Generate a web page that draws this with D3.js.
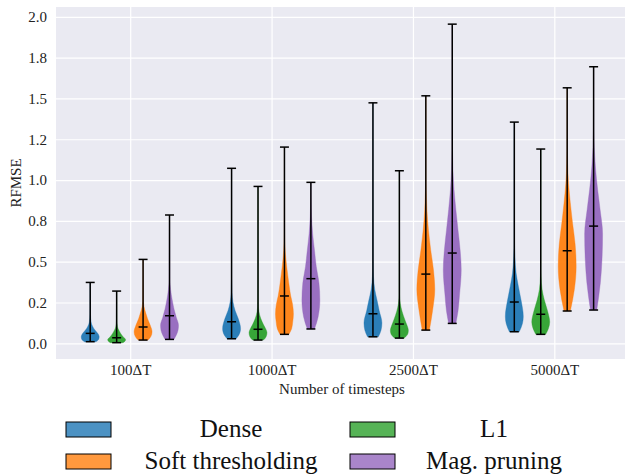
<!DOCTYPE html>
<html>
<head>
<meta charset="utf-8">
<style>
  body { margin: 0; background: #fff; }
</style>
</head>
<body>
<div id="violins"></div>

<script src="https://d3js.org/d3.v7.min.js"></script>
<script>

	var w = 625, h = 475;
	var plotLeft = 56, plotRight = 625, plotTop = 7, plotBottom = 359;
	var serif = "'Liberation Serif', 'Times New Roman', serif";

	// categories and labels
	var groups = ["100\u0394T", "1000\u0394T", "2500\u0394T", "5000\u0394T"];
	var series = ["Dense", "L1", "Soft thresholding", "Mag. pruning"];
	var colors = ["#1f77b4", "#2ca02c", "#ff7f0e", "#9467bd"];
	var legendOrder = [0, 2, 1, 3];   // Dense, Soft thresholding, L1, Mag. pruning
	var offsets = [-0.283, -0.096, 0.091, 0.278];
	var yTicks = [0, 0.25, 0.5, 0.75, 1, 1.25, 1.5, 1.75, 2];
	var yTickLabels = ["0.0", "0.2", "0.5", "0.8", "1.0", "1.2", "1.5", "1.8", "2.0"];

	// per series: min, mean, max for each group
	var denseMin  = [0.010, 0.028, 0.040, 0.071];
	var denseMean = [0.061, 0.132, 0.181, 0.253];
	var denseMax  = [0.373, 1.072, 1.473, 1.355];
	var l1Min  = [0.004, 0.020, 0.032, 0.055];
	var l1Mean = [0.034, 0.086, 0.118, 0.178];
	var l1Max  = [0.320, 0.961, 1.057, 1.190];
	var softMin  = [0.020, 0.055, 0.081, 0.198];
	var softMean = [0.100, 0.290, 0.424, 0.567];
	var softMax  = [0.514, 1.202, 1.516, 1.565];
	var magMin  = [0.024, 0.088, 0.122, 0.204];
	var magMean = [0.169, 0.396, 0.553, 0.718];
	var magMax  = [0.786, 0.986, 1.955, 1.694];

	// violin outlines: [value, relative width]
	var denseShape = [
		[[0.01,0.65],[0.025,0.95],[0.04,1.0],[0.06,0.85],[0.08,0.55],[0.10,0.3],[0.13,0.1],[0.18,0.03],[0.373,0]],
		[[0.028,0.5],[0.05,0.8],[0.09,1.0],[0.15,0.75],[0.2,0.4],[0.255,0.15],[0.31,0.05],[0.4,0.01],[1.072,0]],
		[[0.04,0.6],[0.08,0.9],[0.125,1.0],[0.2,0.7],[0.265,0.45],[0.33,0.2],[0.41,0.06],[0.5,0.02],[1.473,0]],
		[[0.071,0.55],[0.12,0.9],[0.165,1.0],[0.265,0.75],[0.35,0.45],[0.43,0.2],[0.53,0.07],[0.63,0.02],[1.355,0]]
	];
	var l1Shape = [
		[[0.004,0.7],[0.015,0.95],[0.022,1.0],[0.04,0.72],[0.06,0.45],[0.08,0.25],[0.1,0.1],[0.14,0.03],[0.32,0]],
		[[0.02,0.6],[0.04,0.9],[0.065,1.0],[0.09,0.85],[0.112,0.63],[0.153,0.3],[0.195,0.1],[0.25,0.02],[0.961,0]],
		[[0.032,0.55],[0.06,0.95],[0.08,1.0],[0.11,0.85],[0.143,0.62],[0.195,0.3],[0.245,0.1],[0.3,0.03],[1.057,0]],
		[[0.055,0.55],[0.09,0.85],[0.13,1.0],[0.2,0.75],[0.265,0.4],[0.33,0.15],[0.41,0.04],[0.5,0.01],[1.19,0]]
	];
	var softShape = [
		[[0.02,0.55],[0.04,0.85],[0.07,1.0],[0.11,0.8],[0.15,0.5],[0.185,0.3],[0.225,0.1],[0.27,0.03],[0.514,0]],
		[[0.055,0.5],[0.09,0.8],[0.13,0.92],[0.18,1.0],[0.24,0.9],[0.29,0.7],[0.37,0.48],[0.47,0.25],[0.57,0.08],[0.68,0.02],[1.202,0]],
		[[0.081,0.4],[0.2,0.75],[0.33,1.0],[0.45,0.85],[0.57,0.55],[0.69,0.3],[0.82,0.12],[0.94,0.04],[1.1,0.01],[1.516,0]],
		[[0.198,0.35],[0.33,0.8],[0.47,1.0],[0.61,0.88],[0.735,0.6],[0.86,0.35],[0.98,0.15],[1.1,0.05],[1.25,0.01],[1.565,0]]
	];
	var magShape = [
		[[0.024,0.5],[0.05,0.75],[0.08,0.95],[0.11,1.0],[0.16,0.75],[0.21,0.5],[0.265,0.3],[0.33,0.12],[0.39,0.04],[0.786,0]],
		[[0.088,0.4],[0.16,0.8],[0.265,1.0],[0.37,0.9],[0.47,0.6],[0.57,0.4],[0.67,0.2],[0.78,0.07],[0.88,0.02],[0.986,0]],
		[[0.122,0.4],[0.2,0.65],[0.29,0.8],[0.45,1.0],[0.57,0.88],[0.69,0.65],[0.82,0.4],[0.94,0.2],[1.06,0.08],[1.18,0.03],[1.955,0]],
		[[0.204,0.35],[0.37,0.75],[0.51,0.93],[0.67,1.0],[0.82,0.72],[0.94,0.45],[1.08,0.2],[1.2,0.07],[1.31,0.02],[1.694,0]]
	];

	var mins = [denseMin, l1Min, softMin, magMin];
	var means = [denseMean, l1Mean, softMean, magMean];
	var maxs = [denseMax, l1Max, softMax, magMax];
	var shapes = [denseShape, l1Shape, softShape, magShape];

	// svg
	var svg = d3.select("#violins")
				.append("svg")
				.attr("width", w)
				.attr("height", h)
				.attr("font-family", serif);

	// scales
	var x = d3.scaleLinear().domain([-0.525, 3.5]).range([plotLeft, plotRight]),
		y = d3.scaleLinear().domain([-0.096, 2.06]).range([plotBottom, plotTop]);

	var halfW = x(0.0635) - x(0);   // half of violin width

	// background
	svg.append("rect")
	   .attr("x", plotLeft)
	   .attr("y", plotTop)
	   .attr("width", plotRight - plotLeft)
	   .attr("height", plotBottom - plotTop)
	   .attr("fill", "#eaeaf2");

	// grid
	svg.append("g")
	   .attr("transform", "translate(" + plotLeft + ",0)")
	   .call(d3.axisLeft(y).tickValues(yTicks).tickSize(-(plotRight - plotLeft)).tickFormat(""))
	   .call(function(g) {
	   	g.select(".domain").remove();
	   	g.selectAll("line").attr("stroke", "#fff").attr("stroke-width", 1.2);
	   });
	svg.append("g")
	   .attr("transform", "translate(0," + plotBottom + ")")
	   .call(d3.axisBottom(x).tickValues([0, 1, 2, 3]).tickSize(-(plotBottom - plotTop)).tickFormat(""))
	   .call(function(g) {
	   	g.select(".domain").remove();
	   	g.selectAll("line").attr("stroke", "#fff").attr("stroke-width", 1.2);
	   });

	// tick labels
	svg.append("g")
	   .attr("transform", "translate(" + plotLeft + ",0)")
	   .call(d3.axisLeft(y).tickValues(yTicks).tickSize(0).tickPadding(9)
	   		.tickFormat(function(d, i) { return yTickLabels[i]; }))
	   .attr("font-family", serif)
	   .attr("font-size", 15)
	   .call(function(g) {
	   	g.select(".domain").remove();
	   	g.selectAll("text").attr("fill", "#222");
	   });
	svg.append("g")
	   .attr("transform", "translate(0," + plotBottom + ")")
	   .call(d3.axisBottom(x).tickValues([0, 1, 2, 3]).tickSize(0).tickPadding(5)
	   		.tickFormat(function(d, i) { return groups[i]; }))
	   .attr("font-family", serif)
	   .attr("font-size", 15)
	   .call(function(g) {
	   	g.select(".domain").remove();
	   	g.selectAll("text").attr("fill", "#222");
	   });

	// axis titles
	svg.append("text")
	   .attr("x", 342)
	   .attr("y", 394)
	   .attr("text-anchor", "middle")
	   .attr("font-size", 15)
	   .attr("fill", "#222")
	   .text("Number of timesteps");
	svg.append("text")
	   .attr("transform", "translate(21,183) rotate(-90)")
	   .attr("text-anchor", "middle")
	   .attr("font-size", 15)
	   .attr("fill", "#222")
	   .text("RFMSE");

	// violins
	var area = d3.area()
				 .curve(d3.curveMonotoneY)
				 .y(function(d) { return y(d[0]); });

	series.forEach(function(name, s) {
		groups.forEach(function(gname, g) {
			var cx = x(g + offsets[s]);
			area.x0(function(d) { return cx - d[1] * halfW; })
				.x1(function(d) { return cx + d[1] * halfW; });

			svg.append("path")
			   .attr("d", area(shapes[s][g]))
			   .attr("fill", colors[s])
			   .attr("fill-opacity", 0.94)
			   .attr("stroke", colors[s])
			   .attr("stroke-opacity", 0.6)
			   .attr("stroke-width", 0.6);

			// vertical bar
			svg.append("line")
			   .attr("x1", cx).attr("x2", cx)
			   .attr("y1", y(mins[s][g])).attr("y2", y(maxs[s][g]))
			   .attr("stroke", "#000")
			   .attr("stroke-width", 1.5);

			// caps: min, mean, max
			[mins[s][g], means[s][g], maxs[s][g]].forEach(function(v) {
				svg.append("line")
				   .attr("x1", cx - halfW / 2).attr("x2", cx + halfW / 2)
				   .attr("y1", y(v)).attr("y2", y(v))
				   .attr("stroke", "#000")
				   .attr("stroke-width", 1.5);
			});
		});
	});

	// legend
	var legendX = [66, 350], legendTextX = [231, 494], legendY = [422, 454];
	legendOrder.forEach(function(s, i) {
		var col = Math.floor(i / 2), row = i % 2;
		svg.append("rect")
		   .attr("x", legendX[col])
		   .attr("y", legendY[row])
		   .attr("width", 45)
		   .attr("height", 15)
		   .attr("fill", colors[s])
		   .attr("fill-opacity", 0.8)
		   .attr("stroke", "#000")
		   .attr("stroke-width", 1);
		svg.append("text")
		   .attr("x", legendTextX[col])
		   .attr("y", legendY[row] + 15)
		   .attr("text-anchor", "middle")
		   .attr("font-size", 25)
		   .attr("fill", "#111")
		   .text(series[s]);
	});

</script>
</body>
</html>
